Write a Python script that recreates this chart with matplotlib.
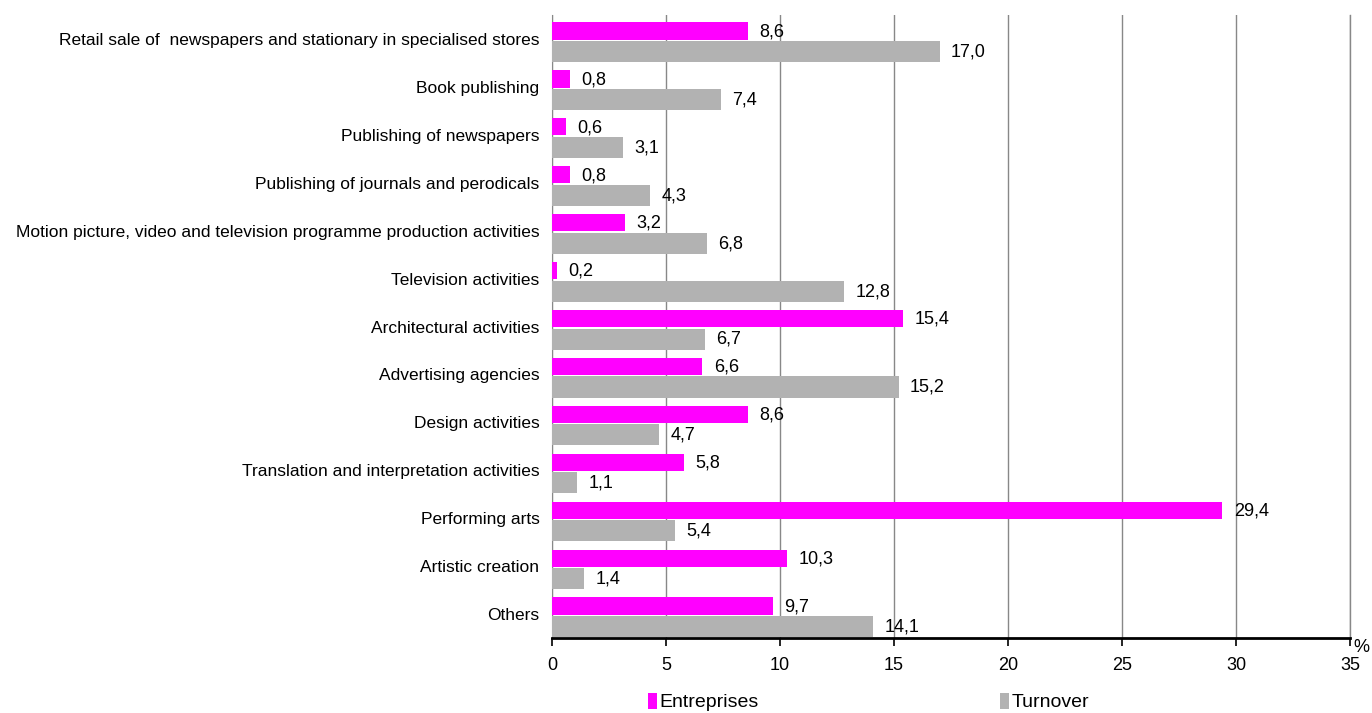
import matplotlib.pyplot as plt
import numpy as np

plt.rcParams['font.family'] = ['Liberation Sans', 'DejaVu Sans']

categories = [
    'Retail sale of  newspapers and stationary in specialised stores',
    'Book publishing',
    'Publishing of newspapers',
    'Publishing of journals and perodicals',
    'Motion picture, video and television programme production activities',
    'Television activities',
    'Architectural activities',
    'Advertising agencies',
    'Design activities',
    'Translation and interpretation activities',
    'Performing arts',
    'Artistic creation',
    'Others',
]
entreprises = [8.6, 0.8, 0.6, 0.8, 3.2, 0.2, 15.4, 6.6, 8.6, 5.8, 29.4, 10.3, 9.7]
turnover = [17.0, 7.4, 3.1, 4.3, 6.8, 12.8, 6.7, 15.2, 4.7, 1.1, 5.4, 1.4, 14.1]

MAGENTA = '#ff00ff'
GREY = '#b2b2b2'

fig = plt.figure(figsize=(13.72, 7.13), dpi=100)
ax = fig.add_axes([552 / 1372, 1 - 638 / 713, (1350 - 552) / 1372, (638 - 15) / 713])

y = np.arange(len(categories))
ax.barh(y - 0.166, entreprises, height=0.36, color=MAGENTA, label='Entreprises', zorder=3)
ax.barh(y + 0.262, turnover, height=0.44, color=GREY, label='Turnover', zorder=3)

# value labels, comma as decimal sign
fmt = lambda v: f'{v:.1f}'.replace('.', ',')
for i, (e, t) in enumerate(zip(entreprises, turnover)):
    ax.text(e + 0.5, i - 0.15, fmt(e), va='center', ha='left', fontsize=13, zorder=4)
    ax.text(t + 0.5, i + 0.27, fmt(t), va='center', ha='left', fontsize=13, zorder=4)

ax.set_ylim(len(categories) - 0.5, -0.5)
ax.set_xlim(0, 35)
ax.set_xticks(range(0, 36, 5))
ax.set_yticks(y)
ax.set_yticklabels(categories, fontsize=12.5)
ax.tick_params(axis='x', labelsize=13, direction='out', length=6, width=1.2, pad=8)
ax.tick_params(axis='y', length=0, pad=9)
ax.grid(axis='x', color='#888888', linewidth=1, zorder=0)
ax.axvline(35, color='#888888', linewidth=1, zorder=0, clip_on=False)
for s in ['top', 'right']:
    ax.spines[s].set_visible(False)
ax.spines['left'].set_color('#999999')
ax.spines['left'].set_zorder(1)
ax.spines['bottom'].set_linewidth(2)
ax.text(1.004, -0.002, '%', transform=ax.transAxes, fontsize=13, va='top', ha='left')

h, l = ax.get_legend_handles_labels()
fig.legend(h, l, loc='center left', bbox_to_anchor=(640 / 1372, 1 - 702 / 713), ncol=2,
           frameon=False, fontsize=14, handlelength=0.45, handleheight=0.9,
           handletextpad=0.15, columnspacing=12.4, borderaxespad=0)

fig.savefig('out.png', dpi=100)
